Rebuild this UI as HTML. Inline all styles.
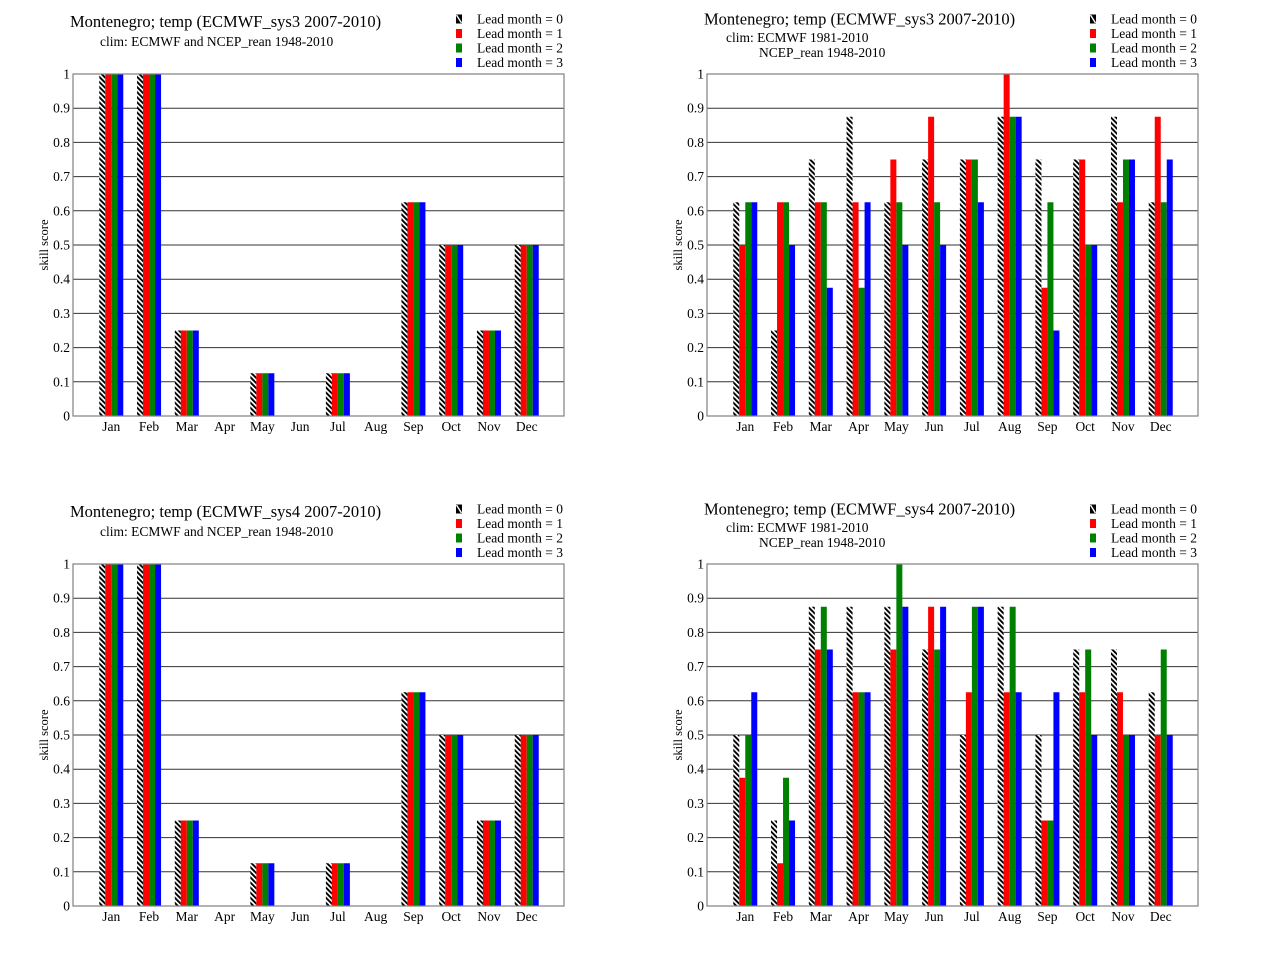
<!DOCTYPE html>
<html><head><meta charset="utf-8"><style>
html,body{margin:0;padding:0;background:#fff;}
svg{display:block;}
text{font-family:"Liberation Serif",serif;fill:#000;}
.t{font-size:16.5px;}
.s{font-size:13.5px;}
.k{font-size:13.5px;}
.ke{font-size:13.5px;text-anchor:end;}
.m{font-size:13.5px;text-anchor:middle;}
.yl{font-size:12.5px;text-anchor:middle;}
.h{fill:url(#hatch);}
.r{fill:#ff0000;}
.g{fill:#008000;}
.b{fill:#0000ff;}
.grid{stroke:#333;stroke-width:1;fill:none;}
.frame{stroke:#808080;stroke-width:1.2;fill:none;}
</style></head><body>
<svg width="1268" height="980" viewBox="0 0 1268 980" xmlns="http://www.w3.org/2000/svg">
<defs>
<pattern id="hatch" patternUnits="userSpaceOnUse" width="3.6" height="3.6" patternTransform="rotate(-45)">
<rect x="0" y="0" width="3.6" height="3.6" fill="#fff"/>
<rect x="0" y="0" width="1.9" height="3.6" fill="#000"/>
</pattern>
<path id="gridp" d="M0,-34.2H491M0,-68.4H491M0,-102.6H491M0,-136.8H491M0,-171H491M0,-205.2H491M0,-239.4H491M0,-273.6H491M0,-307.8H491"/>
</defs>
<rect width="1268" height="980" fill="#fff"/>

<!-- ================= TOP LEFT ================= -->
<text class="t" x="70" y="27">Montenegro; temp (ECMWF_sys3 2007-2010)</text>
<text class="s" x="100" y="46">clim: ECMWF and NCEP_rean 1948-2010</text>
<rect x="456" y="14.5" width="6" height="9" fill="#000"/><line x1="456.5" y1="15" x2="461.5" y2="23" stroke="#fff" stroke-width="1.4"/>
<rect x="456" y="29" width="6" height="9" class="r"/>
<rect x="456" y="43.5" width="6" height="9" class="g"/>
<rect x="456" y="58" width="6" height="9" class="b"/>
<text class="k" x="477" y="23.5">Lead month = 0</text>
<text class="k" x="477" y="38">Lead month = 1</text>
<text class="k" x="477" y="52.5">Lead month = 2</text>
<text class="k" x="477" y="67">Lead month = 3</text>
<text class="yl" transform="translate(48,245) rotate(-90)">skill  score</text>
<g transform="translate(73,416)">
<use href="#gridp" class="grid"/>
<g transform="translate(38.27,0)"><rect class="h" x="-12" y="-342" width="6" height="342"/><rect class="r" x="-6" y="-342" width="6" height="342"/><rect class="g" x="0" y="-342" width="6" height="342"/><rect class="b" x="6" y="-342" width="6" height="342"/></g>
<g transform="translate(76.04,0)"><rect class="h" x="-12" y="-342" width="6" height="342"/><rect class="r" x="-6" y="-342" width="6" height="342"/><rect class="g" x="0" y="-342" width="6" height="342"/><rect class="b" x="6" y="-342" width="6" height="342"/></g>
<g transform="translate(113.81,0)"><rect class="h" x="-12" y="-85.5" width="6" height="85.5"/><rect class="r" x="-6" y="-85.5" width="6" height="85.5"/><rect class="g" x="0" y="-85.5" width="6" height="85.5"/><rect class="b" x="6" y="-85.5" width="6" height="85.5"/></g>
<g transform="translate(189.35,0)"><rect class="h" x="-12" y="-42.75" width="6" height="42.75"/><rect class="r" x="-6" y="-42.75" width="6" height="42.75"/><rect class="g" x="0" y="-42.75" width="6" height="42.75"/><rect class="b" x="6" y="-42.75" width="6" height="42.75"/></g>
<g transform="translate(264.89,0)"><rect class="h" x="-12" y="-42.75" width="6" height="42.75"/><rect class="r" x="-6" y="-42.75" width="6" height="42.75"/><rect class="g" x="0" y="-42.75" width="6" height="42.75"/><rect class="b" x="6" y="-42.75" width="6" height="42.75"/></g>
<g transform="translate(340.43,0)"><rect class="h" x="-12" y="-213.75" width="6" height="213.75"/><rect class="r" x="-6" y="-213.75" width="6" height="213.75"/><rect class="g" x="0" y="-213.75" width="6" height="213.75"/><rect class="b" x="6" y="-213.75" width="6" height="213.75"/></g>
<g transform="translate(378.2,0)"><rect class="h" x="-12" y="-171" width="6" height="171"/><rect class="r" x="-6" y="-171" width="6" height="171"/><rect class="g" x="0" y="-171" width="6" height="171"/><rect class="b" x="6" y="-171" width="6" height="171"/></g>
<g transform="translate(415.97,0)"><rect class="h" x="-12" y="-85.5" width="6" height="85.5"/><rect class="r" x="-6" y="-85.5" width="6" height="85.5"/><rect class="g" x="0" y="-85.5" width="6" height="85.5"/><rect class="b" x="6" y="-85.5" width="6" height="85.5"/></g>
<g transform="translate(453.74,0)"><rect class="h" x="-12" y="-171" width="6" height="171"/><rect class="r" x="-6" y="-171" width="6" height="171"/><rect class="g" x="0" y="-171" width="6" height="171"/><rect class="b" x="6" y="-171" width="6" height="171"/></g>
<rect class="frame" x="0" y="-342" width="491" height="342"/>
<text class="ke" x="-3" y="4.5">0</text><text class="ke" x="-3" y="-29.7">0.1</text><text class="ke" x="-3" y="-63.9">0.2</text><text class="ke" x="-3" y="-98.1">0.3</text><text class="ke" x="-3" y="-132.3">0.4</text><text class="ke" x="-3" y="-166.5">0.5</text><text class="ke" x="-3" y="-200.7">0.6</text><text class="ke" x="-3" y="-234.9">0.7</text><text class="ke" x="-3" y="-269.1">0.8</text><text class="ke" x="-3" y="-303.3">0.9</text><text class="ke" x="-3" y="-337.5">1</text>
<text class="m" x="38.27" y="15">Jan</text><text class="m" x="76.04" y="15">Feb</text><text class="m" x="113.81" y="15">Mar</text><text class="m" x="151.58" y="15">Apr</text><text class="m" x="189.35" y="15">May</text><text class="m" x="227.12" y="15">Jun</text><text class="m" x="264.89" y="15">Jul</text><text class="m" x="302.66" y="15">Aug</text><text class="m" x="340.43" y="15">Sep</text><text class="m" x="378.2" y="15">Oct</text><text class="m" x="415.97" y="15">Nov</text><text class="m" x="453.74" y="15">Dec</text>
</g>

<!-- ================= TOP RIGHT ================= -->
<text class="t" x="704" y="24.5">Montenegro; temp (ECMWF_sys3 2007-2010)</text>
<text class="s" x="726" y="42">clim: ECMWF 1981-2010</text>
<text class="s" x="759" y="57">NCEP_rean 1948-2010</text>
<rect x="1090" y="14.5" width="6" height="9" fill="#000"/><line x1="1090.5" y1="15" x2="1095.5" y2="23" stroke="#fff" stroke-width="1.4"/>
<rect x="1090" y="29" width="6" height="9" class="r"/>
<rect x="1090" y="43.5" width="6" height="9" class="g"/>
<rect x="1090" y="58" width="6" height="9" class="b"/>
<text class="k" x="1111" y="23.5">Lead month = 0</text>
<text class="k" x="1111" y="38">Lead month = 1</text>
<text class="k" x="1111" y="52.5">Lead month = 2</text>
<text class="k" x="1111" y="67">Lead month = 3</text>
<text class="yl" transform="translate(682,245) rotate(-90)">skill  score</text>
<g transform="translate(707,416)">
<use href="#gridp" class="grid"/>
<g transform="translate(38.27,0)"><rect class="h" x="-12" y="-213.75" width="6" height="213.75"/><rect class="r" x="-6" y="-171" width="6" height="171"/><rect class="g" x="0" y="-213.75" width="6" height="213.75"/><rect class="b" x="6" y="-213.75" width="6" height="213.75"/></g>
<g transform="translate(76.04,0)"><rect class="h" x="-12" y="-85.5" width="6" height="85.5"/><rect class="r" x="-6" y="-213.75" width="6" height="213.75"/><rect class="g" x="0" y="-213.75" width="6" height="213.75"/><rect class="b" x="6" y="-171" width="6" height="171"/></g>
<g transform="translate(113.81,0)"><rect class="h" x="-12" y="-256.5" width="6" height="256.5"/><rect class="r" x="-6" y="-213.75" width="6" height="213.75"/><rect class="g" x="0" y="-213.75" width="6" height="213.75"/><rect class="b" x="6" y="-128.25" width="6" height="128.25"/></g>
<g transform="translate(151.58,0)"><rect class="h" x="-12" y="-299.25" width="6" height="299.25"/><rect class="r" x="-6" y="-213.75" width="6" height="213.75"/><rect class="g" x="0" y="-128.25" width="6" height="128.25"/><rect class="b" x="6" y="-213.75" width="6" height="213.75"/></g>
<g transform="translate(189.35,0)"><rect class="h" x="-12" y="-213.75" width="6" height="213.75"/><rect class="r" x="-6" y="-256.5" width="6" height="256.5"/><rect class="g" x="0" y="-213.75" width="6" height="213.75"/><rect class="b" x="6" y="-171" width="6" height="171"/></g>
<g transform="translate(227.12,0)"><rect class="h" x="-12" y="-256.5" width="6" height="256.5"/><rect class="r" x="-6" y="-299.25" width="6" height="299.25"/><rect class="g" x="0" y="-213.75" width="6" height="213.75"/><rect class="b" x="6" y="-171" width="6" height="171"/></g>
<g transform="translate(264.89,0)"><rect class="h" x="-12" y="-256.5" width="6" height="256.5"/><rect class="r" x="-6" y="-256.5" width="6" height="256.5"/><rect class="g" x="0" y="-256.5" width="6" height="256.5"/><rect class="b" x="6" y="-213.75" width="6" height="213.75"/></g>
<g transform="translate(302.66,0)"><rect class="h" x="-12" y="-299.25" width="6" height="299.25"/><rect class="r" x="-6" y="-342" width="6" height="342"/><rect class="g" x="0" y="-299.25" width="6" height="299.25"/><rect class="b" x="6" y="-299.25" width="6" height="299.25"/></g>
<g transform="translate(340.43,0)"><rect class="h" x="-12" y="-256.5" width="6" height="256.5"/><rect class="r" x="-6" y="-128.25" width="6" height="128.25"/><rect class="g" x="0" y="-213.75" width="6" height="213.75"/><rect class="b" x="6" y="-85.5" width="6" height="85.5"/></g>
<g transform="translate(378.2,0)"><rect class="h" x="-12" y="-256.5" width="6" height="256.5"/><rect class="r" x="-6" y="-256.5" width="6" height="256.5"/><rect class="g" x="0" y="-171" width="6" height="171"/><rect class="b" x="6" y="-171" width="6" height="171"/></g>
<g transform="translate(415.97,0)"><rect class="h" x="-12" y="-299.25" width="6" height="299.25"/><rect class="r" x="-6" y="-213.75" width="6" height="213.75"/><rect class="g" x="0" y="-256.5" width="6" height="256.5"/><rect class="b" x="6" y="-256.5" width="6" height="256.5"/></g>
<g transform="translate(453.74,0)"><rect class="h" x="-12" y="-213.75" width="6" height="213.75"/><rect class="r" x="-6" y="-299.25" width="6" height="299.25"/><rect class="g" x="0" y="-213.75" width="6" height="213.75"/><rect class="b" x="6" y="-256.5" width="6" height="256.5"/></g>
<rect class="frame" x="0" y="-342" width="491" height="342"/>
<text class="ke" x="-3" y="4.5">0</text><text class="ke" x="-3" y="-29.7">0.1</text><text class="ke" x="-3" y="-63.9">0.2</text><text class="ke" x="-3" y="-98.1">0.3</text><text class="ke" x="-3" y="-132.3">0.4</text><text class="ke" x="-3" y="-166.5">0.5</text><text class="ke" x="-3" y="-200.7">0.6</text><text class="ke" x="-3" y="-234.9">0.7</text><text class="ke" x="-3" y="-269.1">0.8</text><text class="ke" x="-3" y="-303.3">0.9</text><text class="ke" x="-3" y="-337.5">1</text>
<text class="m" x="38.27" y="15">Jan</text><text class="m" x="76.04" y="15">Feb</text><text class="m" x="113.81" y="15">Mar</text><text class="m" x="151.58" y="15">Apr</text><text class="m" x="189.35" y="15">May</text><text class="m" x="227.12" y="15">Jun</text><text class="m" x="264.89" y="15">Jul</text><text class="m" x="302.66" y="15">Aug</text><text class="m" x="340.43" y="15">Sep</text><text class="m" x="378.2" y="15">Oct</text><text class="m" x="415.97" y="15">Nov</text><text class="m" x="453.74" y="15">Dec</text>
</g>

<!-- ================= BOTTOM LEFT ================= -->
<text class="t" x="70" y="517">Montenegro; temp (ECMWF_sys4 2007-2010)</text>
<text class="s" x="100" y="536">clim: ECMWF and NCEP_rean 1948-2010</text>
<rect x="456" y="504.5" width="6" height="9" fill="#000"/><line x1="456.5" y1="505" x2="461.5" y2="513" stroke="#fff" stroke-width="1.4"/>
<rect x="456" y="519" width="6" height="9" class="r"/>
<rect x="456" y="533.5" width="6" height="9" class="g"/>
<rect x="456" y="548" width="6" height="9" class="b"/>
<text class="k" x="477" y="513.5">Lead month = 0</text>
<text class="k" x="477" y="528">Lead month = 1</text>
<text class="k" x="477" y="542.5">Lead month = 2</text>
<text class="k" x="477" y="557">Lead month = 3</text>
<text class="yl" transform="translate(48,735) rotate(-90)">skill  score</text>
<g transform="translate(73,906)">
<use href="#gridp" class="grid"/>
<g transform="translate(38.27,0)"><rect class="h" x="-12" y="-342" width="6" height="342"/><rect class="r" x="-6" y="-342" width="6" height="342"/><rect class="g" x="0" y="-342" width="6" height="342"/><rect class="b" x="6" y="-342" width="6" height="342"/></g>
<g transform="translate(76.04,0)"><rect class="h" x="-12" y="-342" width="6" height="342"/><rect class="r" x="-6" y="-342" width="6" height="342"/><rect class="g" x="0" y="-342" width="6" height="342"/><rect class="b" x="6" y="-342" width="6" height="342"/></g>
<g transform="translate(113.81,0)"><rect class="h" x="-12" y="-85.5" width="6" height="85.5"/><rect class="r" x="-6" y="-85.5" width="6" height="85.5"/><rect class="g" x="0" y="-85.5" width="6" height="85.5"/><rect class="b" x="6" y="-85.5" width="6" height="85.5"/></g>
<g transform="translate(189.35,0)"><rect class="h" x="-12" y="-42.75" width="6" height="42.75"/><rect class="r" x="-6" y="-42.75" width="6" height="42.75"/><rect class="g" x="0" y="-42.75" width="6" height="42.75"/><rect class="b" x="6" y="-42.75" width="6" height="42.75"/></g>
<g transform="translate(264.89,0)"><rect class="h" x="-12" y="-42.75" width="6" height="42.75"/><rect class="r" x="-6" y="-42.75" width="6" height="42.75"/><rect class="g" x="0" y="-42.75" width="6" height="42.75"/><rect class="b" x="6" y="-42.75" width="6" height="42.75"/></g>
<g transform="translate(340.43,0)"><rect class="h" x="-12" y="-213.75" width="6" height="213.75"/><rect class="r" x="-6" y="-213.75" width="6" height="213.75"/><rect class="g" x="0" y="-213.75" width="6" height="213.75"/><rect class="b" x="6" y="-213.75" width="6" height="213.75"/></g>
<g transform="translate(378.2,0)"><rect class="h" x="-12" y="-171" width="6" height="171"/><rect class="r" x="-6" y="-171" width="6" height="171"/><rect class="g" x="0" y="-171" width="6" height="171"/><rect class="b" x="6" y="-171" width="6" height="171"/></g>
<g transform="translate(415.97,0)"><rect class="h" x="-12" y="-85.5" width="6" height="85.5"/><rect class="r" x="-6" y="-85.5" width="6" height="85.5"/><rect class="g" x="0" y="-85.5" width="6" height="85.5"/><rect class="b" x="6" y="-85.5" width="6" height="85.5"/></g>
<g transform="translate(453.74,0)"><rect class="h" x="-12" y="-171" width="6" height="171"/><rect class="r" x="-6" y="-171" width="6" height="171"/><rect class="g" x="0" y="-171" width="6" height="171"/><rect class="b" x="6" y="-171" width="6" height="171"/></g>
<rect class="frame" x="0" y="-342" width="491" height="342"/>
<text class="ke" x="-3" y="4.5">0</text><text class="ke" x="-3" y="-29.7">0.1</text><text class="ke" x="-3" y="-63.9">0.2</text><text class="ke" x="-3" y="-98.1">0.3</text><text class="ke" x="-3" y="-132.3">0.4</text><text class="ke" x="-3" y="-166.5">0.5</text><text class="ke" x="-3" y="-200.7">0.6</text><text class="ke" x="-3" y="-234.9">0.7</text><text class="ke" x="-3" y="-269.1">0.8</text><text class="ke" x="-3" y="-303.3">0.9</text><text class="ke" x="-3" y="-337.5">1</text>
<text class="m" x="38.27" y="15">Jan</text><text class="m" x="76.04" y="15">Feb</text><text class="m" x="113.81" y="15">Mar</text><text class="m" x="151.58" y="15">Apr</text><text class="m" x="189.35" y="15">May</text><text class="m" x="227.12" y="15">Jun</text><text class="m" x="264.89" y="15">Jul</text><text class="m" x="302.66" y="15">Aug</text><text class="m" x="340.43" y="15">Sep</text><text class="m" x="378.2" y="15">Oct</text><text class="m" x="415.97" y="15">Nov</text><text class="m" x="453.74" y="15">Dec</text>
</g>

<!-- ================= BOTTOM RIGHT ================= -->
<text class="t" x="704" y="514.5">Montenegro; temp (ECMWF_sys4 2007-2010)</text>
<text class="s" x="726" y="532">clim: ECMWF 1981-2010</text>
<text class="s" x="759" y="547">NCEP_rean 1948-2010</text>
<rect x="1090" y="504.5" width="6" height="9" fill="#000"/><line x1="1090.5" y1="505" x2="1095.5" y2="513" stroke="#fff" stroke-width="1.4"/>
<rect x="1090" y="519" width="6" height="9" class="r"/>
<rect x="1090" y="533.5" width="6" height="9" class="g"/>
<rect x="1090" y="548" width="6" height="9" class="b"/>
<text class="k" x="1111" y="513.5">Lead month = 0</text>
<text class="k" x="1111" y="528">Lead month = 1</text>
<text class="k" x="1111" y="542.5">Lead month = 2</text>
<text class="k" x="1111" y="557">Lead month = 3</text>
<text class="yl" transform="translate(682,735) rotate(-90)">skill  score</text>
<g transform="translate(707,906)">
<use href="#gridp" class="grid"/>
<g transform="translate(38.27,0)"><rect class="h" x="-12" y="-171" width="6" height="171"/><rect class="r" x="-6" y="-128.25" width="6" height="128.25"/><rect class="g" x="0" y="-171" width="6" height="171"/><rect class="b" x="6" y="-213.75" width="6" height="213.75"/></g>
<g transform="translate(76.04,0)"><rect class="h" x="-12" y="-85.5" width="6" height="85.5"/><rect class="r" x="-6" y="-42.75" width="6" height="42.75"/><rect class="g" x="0" y="-128.25" width="6" height="128.25"/><rect class="b" x="6" y="-85.5" width="6" height="85.5"/></g>
<g transform="translate(113.81,0)"><rect class="h" x="-12" y="-299.25" width="6" height="299.25"/><rect class="r" x="-6" y="-256.5" width="6" height="256.5"/><rect class="g" x="0" y="-299.25" width="6" height="299.25"/><rect class="b" x="6" y="-256.5" width="6" height="256.5"/></g>
<g transform="translate(151.58,0)"><rect class="h" x="-12" y="-299.25" width="6" height="299.25"/><rect class="r" x="-6" y="-213.75" width="6" height="213.75"/><rect class="g" x="0" y="-213.75" width="6" height="213.75"/><rect class="b" x="6" y="-213.75" width="6" height="213.75"/></g>
<g transform="translate(189.35,0)"><rect class="h" x="-12" y="-299.25" width="6" height="299.25"/><rect class="r" x="-6" y="-256.5" width="6" height="256.5"/><rect class="g" x="0" y="-342" width="6" height="342"/><rect class="b" x="6" y="-299.25" width="6" height="299.25"/></g>
<g transform="translate(227.12,0)"><rect class="h" x="-12" y="-256.5" width="6" height="256.5"/><rect class="r" x="-6" y="-299.25" width="6" height="299.25"/><rect class="g" x="0" y="-256.5" width="6" height="256.5"/><rect class="b" x="6" y="-299.25" width="6" height="299.25"/></g>
<g transform="translate(264.89,0)"><rect class="h" x="-12" y="-171" width="6" height="171"/><rect class="r" x="-6" y="-213.75" width="6" height="213.75"/><rect class="g" x="0" y="-299.25" width="6" height="299.25"/><rect class="b" x="6" y="-299.25" width="6" height="299.25"/></g>
<g transform="translate(302.66,0)"><rect class="h" x="-12" y="-299.25" width="6" height="299.25"/><rect class="r" x="-6" y="-213.75" width="6" height="213.75"/><rect class="g" x="0" y="-299.25" width="6" height="299.25"/><rect class="b" x="6" y="-213.75" width="6" height="213.75"/></g>
<g transform="translate(340.43,0)"><rect class="h" x="-12" y="-171" width="6" height="171"/><rect class="r" x="-6" y="-85.5" width="6" height="85.5"/><rect class="g" x="0" y="-85.5" width="6" height="85.5"/><rect class="b" x="6" y="-213.75" width="6" height="213.75"/></g>
<g transform="translate(378.2,0)"><rect class="h" x="-12" y="-256.5" width="6" height="256.5"/><rect class="r" x="-6" y="-213.75" width="6" height="213.75"/><rect class="g" x="0" y="-256.5" width="6" height="256.5"/><rect class="b" x="6" y="-171" width="6" height="171"/></g>
<g transform="translate(415.97,0)"><rect class="h" x="-12" y="-256.5" width="6" height="256.5"/><rect class="r" x="-6" y="-213.75" width="6" height="213.75"/><rect class="g" x="0" y="-171" width="6" height="171"/><rect class="b" x="6" y="-171" width="6" height="171"/></g>
<g transform="translate(453.74,0)"><rect class="h" x="-12" y="-213.75" width="6" height="213.75"/><rect class="r" x="-6" y="-171" width="6" height="171"/><rect class="g" x="0" y="-256.5" width="6" height="256.5"/><rect class="b" x="6" y="-171" width="6" height="171"/></g>
<rect class="frame" x="0" y="-342" width="491" height="342"/>
<text class="ke" x="-3" y="4.5">0</text><text class="ke" x="-3" y="-29.7">0.1</text><text class="ke" x="-3" y="-63.9">0.2</text><text class="ke" x="-3" y="-98.1">0.3</text><text class="ke" x="-3" y="-132.3">0.4</text><text class="ke" x="-3" y="-166.5">0.5</text><text class="ke" x="-3" y="-200.7">0.6</text><text class="ke" x="-3" y="-234.9">0.7</text><text class="ke" x="-3" y="-269.1">0.8</text><text class="ke" x="-3" y="-303.3">0.9</text><text class="ke" x="-3" y="-337.5">1</text>
<text class="m" x="38.27" y="15">Jan</text><text class="m" x="76.04" y="15">Feb</text><text class="m" x="113.81" y="15">Mar</text><text class="m" x="151.58" y="15">Apr</text><text class="m" x="189.35" y="15">May</text><text class="m" x="227.12" y="15">Jun</text><text class="m" x="264.89" y="15">Jul</text><text class="m" x="302.66" y="15">Aug</text><text class="m" x="340.43" y="15">Sep</text><text class="m" x="378.2" y="15">Oct</text><text class="m" x="415.97" y="15">Nov</text><text class="m" x="453.74" y="15">Dec</text>
</g>
</svg>
</body></html>
